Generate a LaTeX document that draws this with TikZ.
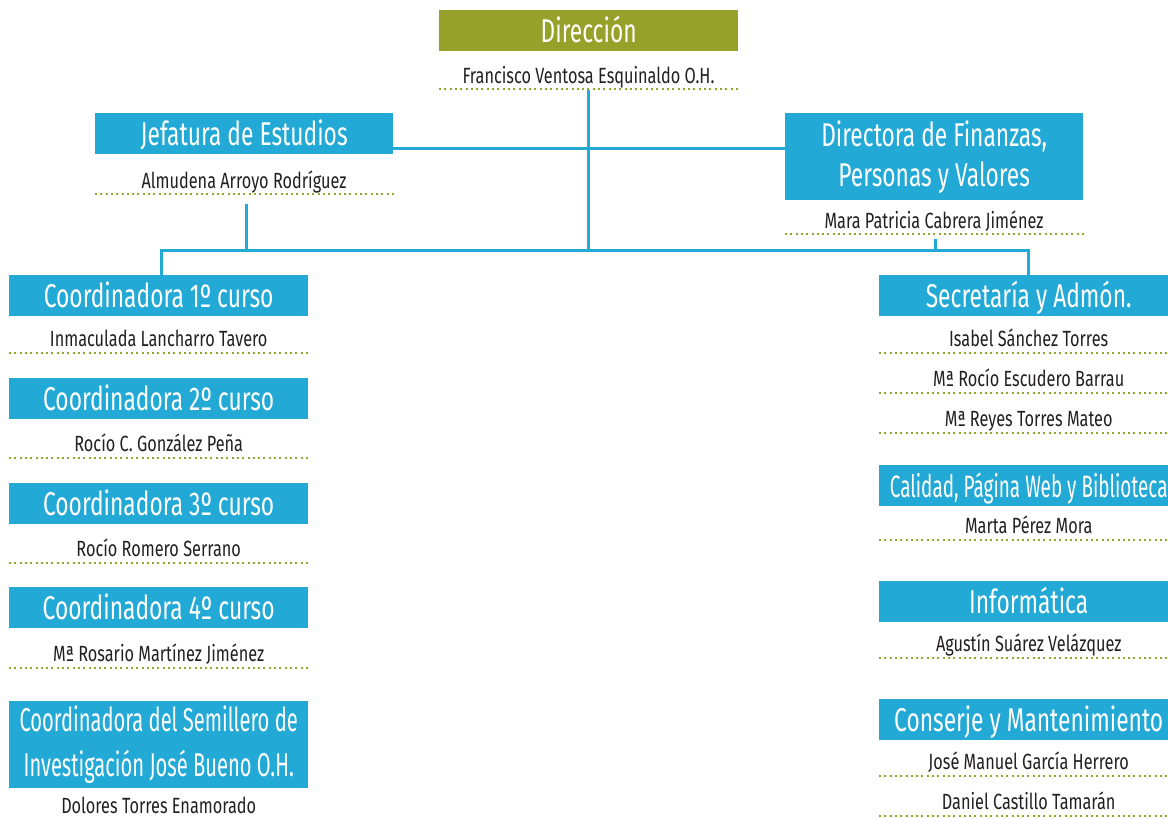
\documentclass[tikz,border=0pt]{standalone}
\usepackage{fontspec}
\setmainfont[FakeStretch=0.69]{Fira Sans}
\newfontfamily\nombrefont[FakeStretch=0.74]{Fira Sans}
\newfontfamily\estrechafont[FakeStretch=0.61]{Fira Sans}
\definecolor{azul}{RGB}{34,169,214}
\definecolor{oliva}{RGB}{150,161,42}
\definecolor{verdepunto}{RGB}{141,170,43}
\definecolor{texto}{RGB}{35,31,32}
\tikzset{
    cargo/.style={fill=azul, text=white, anchor=north west, inner sep=0pt,
        minimum width=299pt, minimum height=41pt, align=center,
        text height=23pt, text depth=0pt,
        font=\fontsize{33}{40}\selectfont},
    doble/.style={minimum height=87pt, text height={}, text depth={}},
    nombre/.style={anchor=base, text=texto, inner sep=0pt,
        font=\nombrefont\fontsize{22}{24}\selectfont},
    puntos/.style={draw=verdepunto, line width=2pt, dash pattern=on 2pt off 3.3pt},
    enlace/.style={draw=azul, line width=3pt}
}
\begin{document}
\begin{tikzpicture}[x=1pt,y=-1pt]
        \useasboundingbox (0,0) rectangle (1168,819);
        %% Direccion
        \node[cargo,fill=oliva] (dir) at (439,10) {Dirección};
        \node[nombre] (dirnom) at (588.5,83) {Francisco Ventosa Esquinaldo O.H.};
        \draw[puntos] (439,89) -- (738,89);
        %% Jefatura y Finanzas
        \node[cargo,minimum width=298pt] (jef) at (95,113) {Jefatura de Estudios};
        \node[nombre] (jefnom) at (244,188) {Almudena Arroyo Rodríguez};
        \draw[puntos] (95,194) -- (395,194);
        \node[cargo,doble,minimum width=298pt] (dfp) at (785,113)
            {Directora de Finanzas,\\Personas y Valores};
        \node[nombre] (dfpnom) at (934,228) {Mara Patricia Cabrera Jiménez};
        \draw[puntos] (785,234) -- (1085,234);
        %% Coordinadoras
        \node[cargo] (c1) at (9,275) {Coordinadora 1º curso};
        \node[nombre] (c1nom) at (c1.south |- 0,346) {Inmaculada Lancharro Tavero};
        \node[cargo] (c2) at (9,378) {Coordinadora 2º curso};
        \node[nombre] (c2nom) at (c2.south |- 0,451) {Rocío C. González Peña};
        \node[cargo] (c3) at (9,483) {Coordinadora 3º curso};
        \node[nombre] (c3nom) at (c3.south |- 0,556) {Rocío Romero Serrano};
        \node[cargo] (c4) at (9,587) {Coordinadora 4º curso};
        \node[nombre] (c4nom) at (c4.south |- 0,661) {Mª Rosario Martínez Jiménez};
        \node[cargo,doble,font=\estrechafont\fontsize{33}{45}\selectfont] (sem) at (9,701)
            {Coordinadora del Semillero de\\Investigación José Bueno O.H.};
        \node[nombre] (semnom) at (sem.south |- 0,813) {Dolores Torres Enamorado};
        \foreach \y in {353,458,563,668}
            \draw[puntos] (9,\y) -- (310,\y);
        %% Secretaria y servicios
        \node[cargo] (sec) at (879,275) {Secretaría y Admón.};
        \node[nombre] (secnom1) at (sec.south |- 0,346) {Isabel Sánchez Torres};
        \node[nombre] (secnom2) at (sec.south |- 0,386) {Mª Rocío Escudero Barrau};
        \node[nombre] (secnom3) at (sec.south |- 0,426) {Mª Reyes Torres Mateo};
        \node[cargo,font=\estrechafont\fontsize{31}{40}\selectfont] (cal) at (879,465)
            {Calidad, Página Web y Biblioteca};
        \node[nombre] (calnom) at (cal.south |- 0,533) {Marta Pérez Mora};
        \node[cargo] (inf) at (879,581) {Informática};
        \node[nombre] (infnom) at (inf.south |- 0,651) {Agustín Suárez Velázquez};
        \node[cargo] (con) at (879,699) {Conserje y Mantenimiento};
        \node[nombre] (connom1) at (con.south |- 0,769) {José Manuel García Herrero};
        \node[nombre] (connom2) at (con.south |- 0,809) {Daniel Castillo Tamarán};
        \foreach \y in {353,393,433,540,658,776,816}
            \draw[puntos] (879,\y) -- (1178,\y);
        %% Lineas de enlace
        \coordinate (barra) at (0,250);
        \coordinate (dirpie) at (588.5,90);
        \coordinate (jefpie) at (246,204);
        \coordinate (dfppie) at (935,239);
        \coordinate (medio) at (0,148);
        \draw[enlace] (dirpie) -- (dirpie |- barra);
        \draw[enlace] (jef.east |- medio) -- (dfp.west |- medio);
        \draw[enlace] (jefpie) -- (jefpie |- barra);
        \draw[enlace] (dfppie) -- (dfppie |- barra);
        \draw[enlace] (c1.north -| 161,0) |- (barra -| sec.north) -- (sec.north);
    \end{tikzpicture}
\end{document}
